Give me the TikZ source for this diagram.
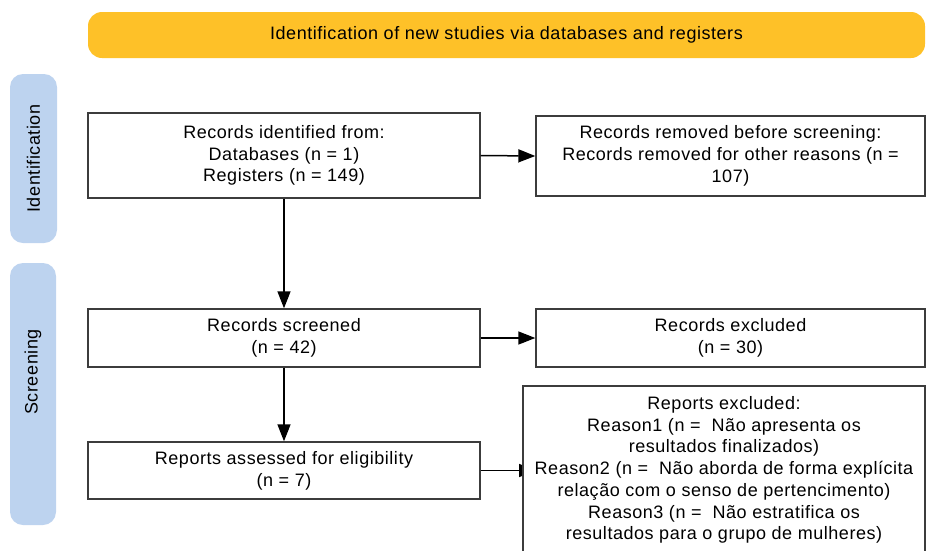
\documentclass[tikz,border=0pt]{standalone}
\usepackage{fontspec}
\setmainfont{Liberation Sans}[LetterSpace=3]
\usetikzlibrary{arrows.meta}
\definecolor{bannerY}{RGB}{254,193,40}
\definecolor{sideB}{RGB}{189,211,239}
\definecolor{boxline}{RGB}{60,60,60}
\tikzset{
  txt/.style={font=\fontsize{18}{21.7}\selectfont},
  flowbox/.style={txt, draw=boxline, line width=1.4pt, fill=white, align=center, inner sep=0pt},
  banner/.style={txt, fill=bannerY, rounded corners=14pt, align=center, inner sep=0pt},
  sidebar/.style={fill=sideB, rounded corners=13pt, inner sep=0pt},
  flowarrow/.style={draw=black, line width=1.5pt, -{Triangle[length=17pt,width=13pt]}},
}
\begin{document}
\begin{tikzpicture}[x=1pt,y=-1pt]
\useasboundingbox (0,0) rectangle (927,550);
\clip (0,0) rectangle (927,550);
\node[banner, minimum width=837pt, minimum height=46pt] (ban) at (506.5,35) {Identification of new studies via databases and registers};
\node[sidebar, minimum width=47pt, minimum height=169pt] (sid1) at (33.5,158.5) {};
\node[txt, rotate=90] (sid1t) at (sid1.center) {Identification};
\node[sidebar, minimum width=46pt, minimum height=262pt] (sid2) at (33,394) {};
\node[txt, rotate=90] (sid2t) at (33,372) {Screening};

\node[flowbox, minimum width=392pt, minimum height=85pt] (ident) at (284,155.5) {Records identified from:\\Databases (n = 1)\\Registers (n = 149)};
\node[flowbox, minimum width=389pt, minimum height=80pt] (removed) at (730.5,156) {Records removed before screening:\\Records removed for other reasons (n =\\107)};
\node[flowbox, minimum width=392pt, minimum height=58pt] (screened) at (284,338) {Records screened\\(n = 42)};
\node[flowbox, minimum width=389pt, minimum height=58pt] (excluded) at (730.5,338) {Records excluded\\(n = 30)};
\node[flowbox, minimum width=392pt, minimum height=57pt] (assessed) at (284,470.5) {Reports assessed for eligibility\\(n = 7)};

\draw[flowarrow] (ident) -- (screened);
\draw[flowarrow] (screened) -- (assessed);
\draw[flowarrow] (ident.east) -- (removed.west);
\draw[flowarrow] (screened.east) -- (excluded.west);
\coordinate (tipR) at (536,470.5);
\draw[flowarrow] (assessed.east) -- (tipR);
\node[flowbox, minimum width=402pt, minimum height=168pt] (repexcl) at (724,470) {Reports excluded:\\Reason1 (n = \ Não apresenta os\\resultados finalizados)\\Reason2 (n = \ Não aborda de forma explícita\\relação com o senso de pertencimento)\\Reason3 (n = \ Não estratifica os\\resultados para o grupo de mulheres)};
\end{tikzpicture}
\end{document}
